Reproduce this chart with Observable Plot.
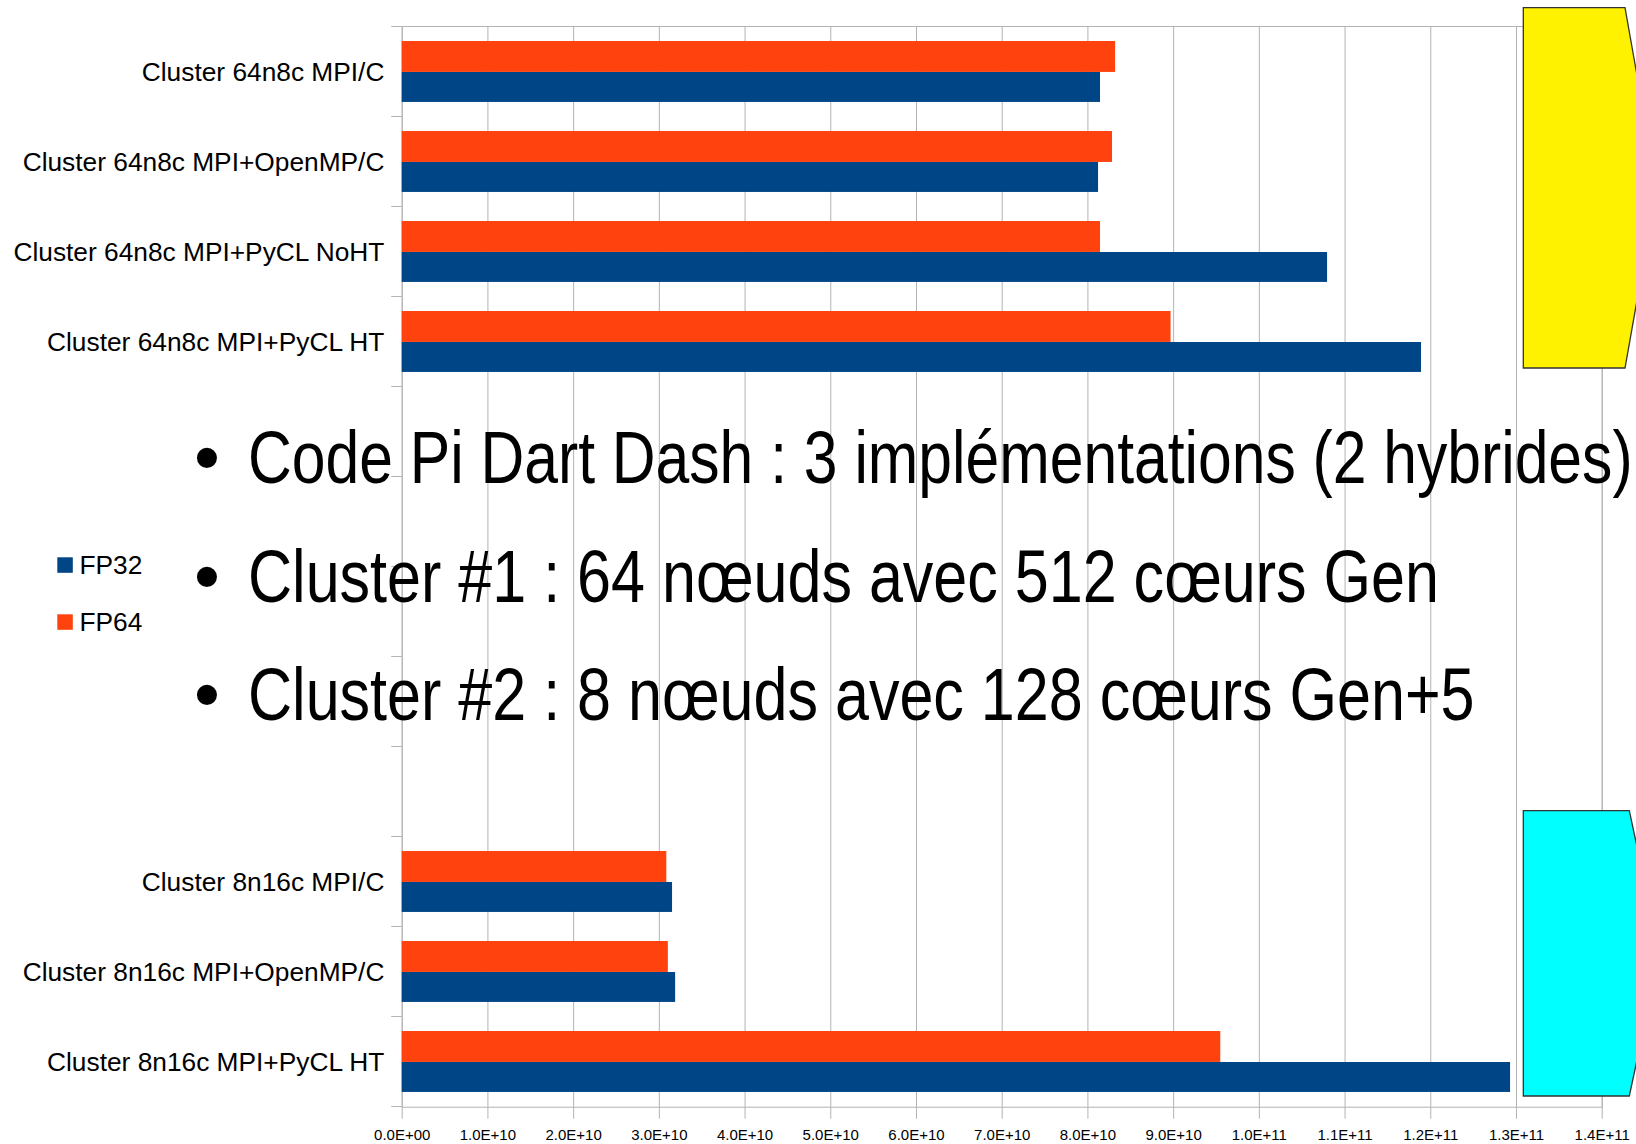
<!DOCTYPE html>
<html>
<head>
<meta charset="utf-8">
<script src="https://cdn.jsdelivr.net/npm/d3@7"></script>
<script src="https://cdn.jsdelivr.net/npm/@observablehq/plot@0.6"></script>
<style>
  html, body { margin: 0; padding: 0; background: #fff; }
  #wrap { position: relative; width: 1636px; height: 1144px; overflow: hidden; background: #fff; }
  #wrap > svg { position: absolute; left: 0; top: 0; }
</style>
</head>
<body>
<div id="wrap"></div>
<script>
// ---- data ----
const categories = [
  "Cluster 64n8c MPI/C",
  "Cluster 64n8c MPI+OpenMP/C",
  "Cluster 64n8c MPI+PyCL NoHT",
  "Cluster 64n8c MPI+PyCL HT",
  "Cluster 8n16c MPI/C",
  "Cluster 8n16c MPI+OpenMP/C",
  "Cluster 8n16c MPI+PyCL HT"
];
// five blank category slots between the two clusters
const blankSlots = [" ", "  ", "   ", "    ", "     "];
const series = ["FP32", "FP64"];
const seriesColors = ["#004586", "#ff420e"];
const fp32 = [8.147e10, 8.124e10, 1.0796e11, 1.1892e11, 3.154e10, 3.19e10, 1.2931e11];
const fp64 = [8.323e10, 8.287e10, 8.147e10, 8.97e10, 3.087e10, 3.105e10, 9.55e10];
const xTicks = [0, 1e10, 2e10, 3e10, 4e10, 5e10, 6e10, 7e10, 8e10, 9e10, 1e11, 1.1e11, 1.2e11, 1.3e11, 1.4e11];
const xTickLabels = ["0.0E+00", "1.0E+10", "2.0E+10", "3.0E+10", "4.0E+10", "5.0E+10", "6.0E+10", "7.0E+10",
  "8.0E+10", "9.0E+10", "1.0E+11", "1.1E+11", "1.2E+11", "1.3E+11", "1.4E+11"];
const bullets = [
  "Code Pi Dart Dash : 3 implémentations (2 hybrides)",
  "Cluster #1 : 64 nœuds avec 512 cœurs Gen",
  "Cluster #2 : 8 nœuds avec 128 cœurs Gen+5"
];

const yDomain = [...categories.slice(0, 4), ...blankSlots, ...categories.slice(4)];
const rows = categories.flatMap((c, i) => [
  {category: c, series: "FP32", value: fp32[i]},
  {category: c, series: "FP64", value: fp64[i]}
]);

const W = 1636, H = 1144;
const mTop = 26, mBottom = H - 1106.7, mLeft = 401.7, mRight = W - 1601.7;
const band = (H - mBottom - mTop) / yDomain.length;
const grid = "#b3b3b3";
const sans = "'Liberation Sans', Arial, sans-serif";

const chart = Plot.plot({
  width: W,
  height: H,
  marginTop: mTop,
  marginBottom: mBottom,
  marginLeft: mLeft,
  marginRight: mRight,
  style: {fontFamily: sans, background: "#fff", color: "#000", overflow: "visible"},
  x: {domain: [0, 1.4e11]},
  y: {type: "band", domain: yDomain, padding: 0},
  color: {domain: series, range: seriesColors},
  marks: [
    Plot.gridX(xTicks, {stroke: grid, strokeOpacity: 1}),
    Plot.frame({stroke: grid}),
    Plot.barX(rows.filter(d => d.series === "FP64"), {x: "value", y: "category", fill: "series", insetTop: 15, insetBottom: band - 46}),
    Plot.barX(rows.filter(d => d.series === "FP32"), {x: "value", y: "category", fill: "series", insetTop: 46, insetBottom: band - 76}),
    // ticks at band boundaries
    Plot.axisY(yDomain, {tickSize: 10.5, tickFormat: () => "", stroke: grid, dy: -band / 2, label: null}),
    Plot.axisY(yDomain.slice(-1), {tickSize: 10.5, tickFormat: () => "", stroke: grid, dy: band / 2, label: null}),
    // category labels
    Plot.axisY(yDomain, {tickSize: 0, tickPadding: 17.8, fontSize: 26.3, fill: "#000", dy: 1, label: null}),
    // x axis
    Plot.axisX(xTicks, {tickSize: 12, tickPadding: 10, stroke: grid, fill: "#000", fontSize: 15,
      tickFormat: d => xTickLabels[xTicks.indexOf(d)], label: null})
  ]
});
document.getElementById("wrap").appendChild(chart);

// ---- overlay: legend, bullet text, slide shapes ----
const color = chart.scale("color");
const ov = d3.select("#wrap").append("svg")
  .attr("width", W).attr("height", H)
  .style("font-family", sans);

// legend
const lg = ov.append("g");
series.forEach((s, i) => {
  const y0 = 557.3 + i * 57;
  lg.append("rect").attr("x", 57.3).attr("y", y0).attr("width", 15.5).attr("height", 15.5)
    .attr("fill", color.apply(s));
  lg.append("text").attr("x", 79.5).attr("y", y0 + 17).attr("font-size", 26.3).attr("fill", "#000").text(s);
});

// slide shapes (partially off-canvas)
ov.append("polygon")
  .attr("points", [[1523.3, 7.7], [1625, 7.7], [1657, 187.8], [1625, 368], [1523.3, 368]].join(" "))
  .attr("fill", "#fff200").attr("stroke", "#333").attr("stroke-width", 1.3);
ov.append("polygon")
  .attr("points", [[1523.3, 810.7], [1629.3, 810.7], [1660, 953.3], [1629.3, 1096], [1523.3, 1096]].join(" "))
  .attr("fill", "#00ffff").attr("stroke", "#333").attr("stroke-width", 1.3);

// bullet text (condensed face, emulated by a horizontal squeeze; kept inside the page)
const baselines = [483.3, 601.7, 720];
const textX = 248;
bullets.forEach((t, i) => {
  ov.append("text").attr("x", 207).attr("y", baselines[i]).attr("text-anchor", "middle")
    .attr("font-size", 74).attr("fill", "#000").text("•");
  const el = ov.append("text")
    .attr("font-size", 74).attr("fill", "#000").text(t);
  const len = el.node().getComputedTextLength();
  const sx = Math.min(0.825, (W - 3 - textX) / len);
  el.attr("transform", `translate(${textX},${baselines[i]}) scale(${sx},1)`);
});
</script>
</body>
</html>
